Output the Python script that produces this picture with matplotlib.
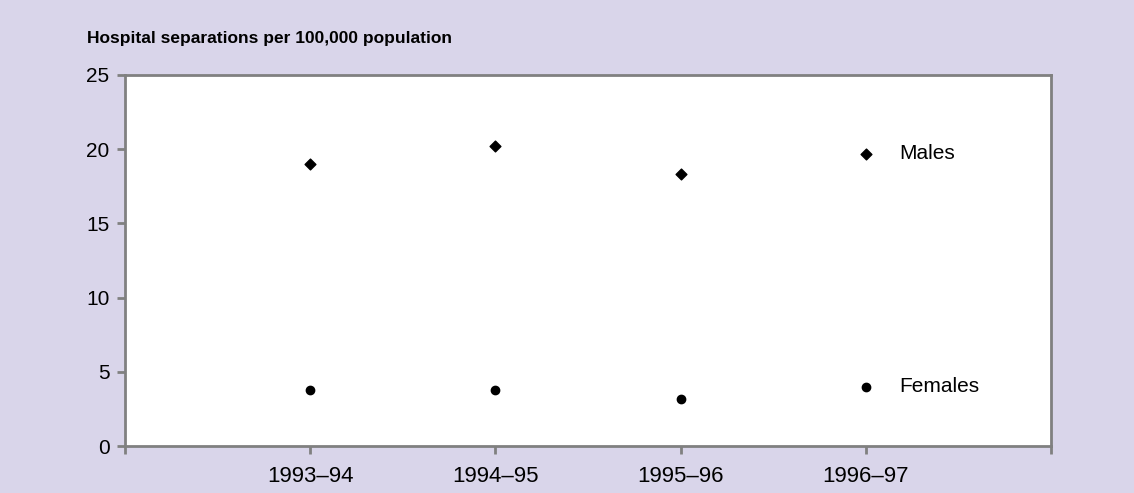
import matplotlib.pyplot as plt

years = ['1993–94', '1994–95', '1995–96', '1996–97']
males = [19.0, 20.2, 18.3, 19.7]
females = [3.8, 3.8, 3.2, 4.0]

bg = '#d9d5ea'
grey = '#808080'

plt.rcParams['font.family'] = ['Liberation Sans', 'DejaVu Sans']

fig = plt.figure(figsize=(11.34, 4.93), dpi=100, facecolor=bg)
ax = fig.add_axes([0.110, 0.095, 0.817, 0.753])
ax.set_facecolor('white')

x = list(range(1, len(years) + 1))
ax.scatter(x, males, marker='D', s=30, color='black', zorder=3)
ax.scatter(x, females, marker='o', s=36, color='black', zorder=3)

# series names next to the last points
ax.text(x[-1] + 0.18, males[-1], 'Males', fontsize=15, va='center', ha='left')
ax.text(x[-1] + 0.18, females[-1], 'Females', fontsize=15, va='center', ha='left')

ax.set_xlim(0, len(years) + 1)
ax.set_ylim(0, 25)
ax.set_xticks(range(0, len(years) + 2))
ax.set_xticklabels([''] + years + [''])
ax.set_yticks([0, 5, 10, 15, 20, 25])

for s in ax.spines.values():
    s.set_color(grey)
    s.set_linewidth(2)
ax.tick_params(axis='both', colors=grey, width=2, length=6, labelsize=15,
               labelcolor='black', pad=5)
ax.tick_params(axis='x', pad=8, labelsize=16)

fig.text(0.077, 0.921, 'Hospital separations per 100,000 population',
         fontsize=12.5, fontweight='bold', va='center', ha='left')

fig.savefig('out.png', dpi=100, facecolor=bg)
